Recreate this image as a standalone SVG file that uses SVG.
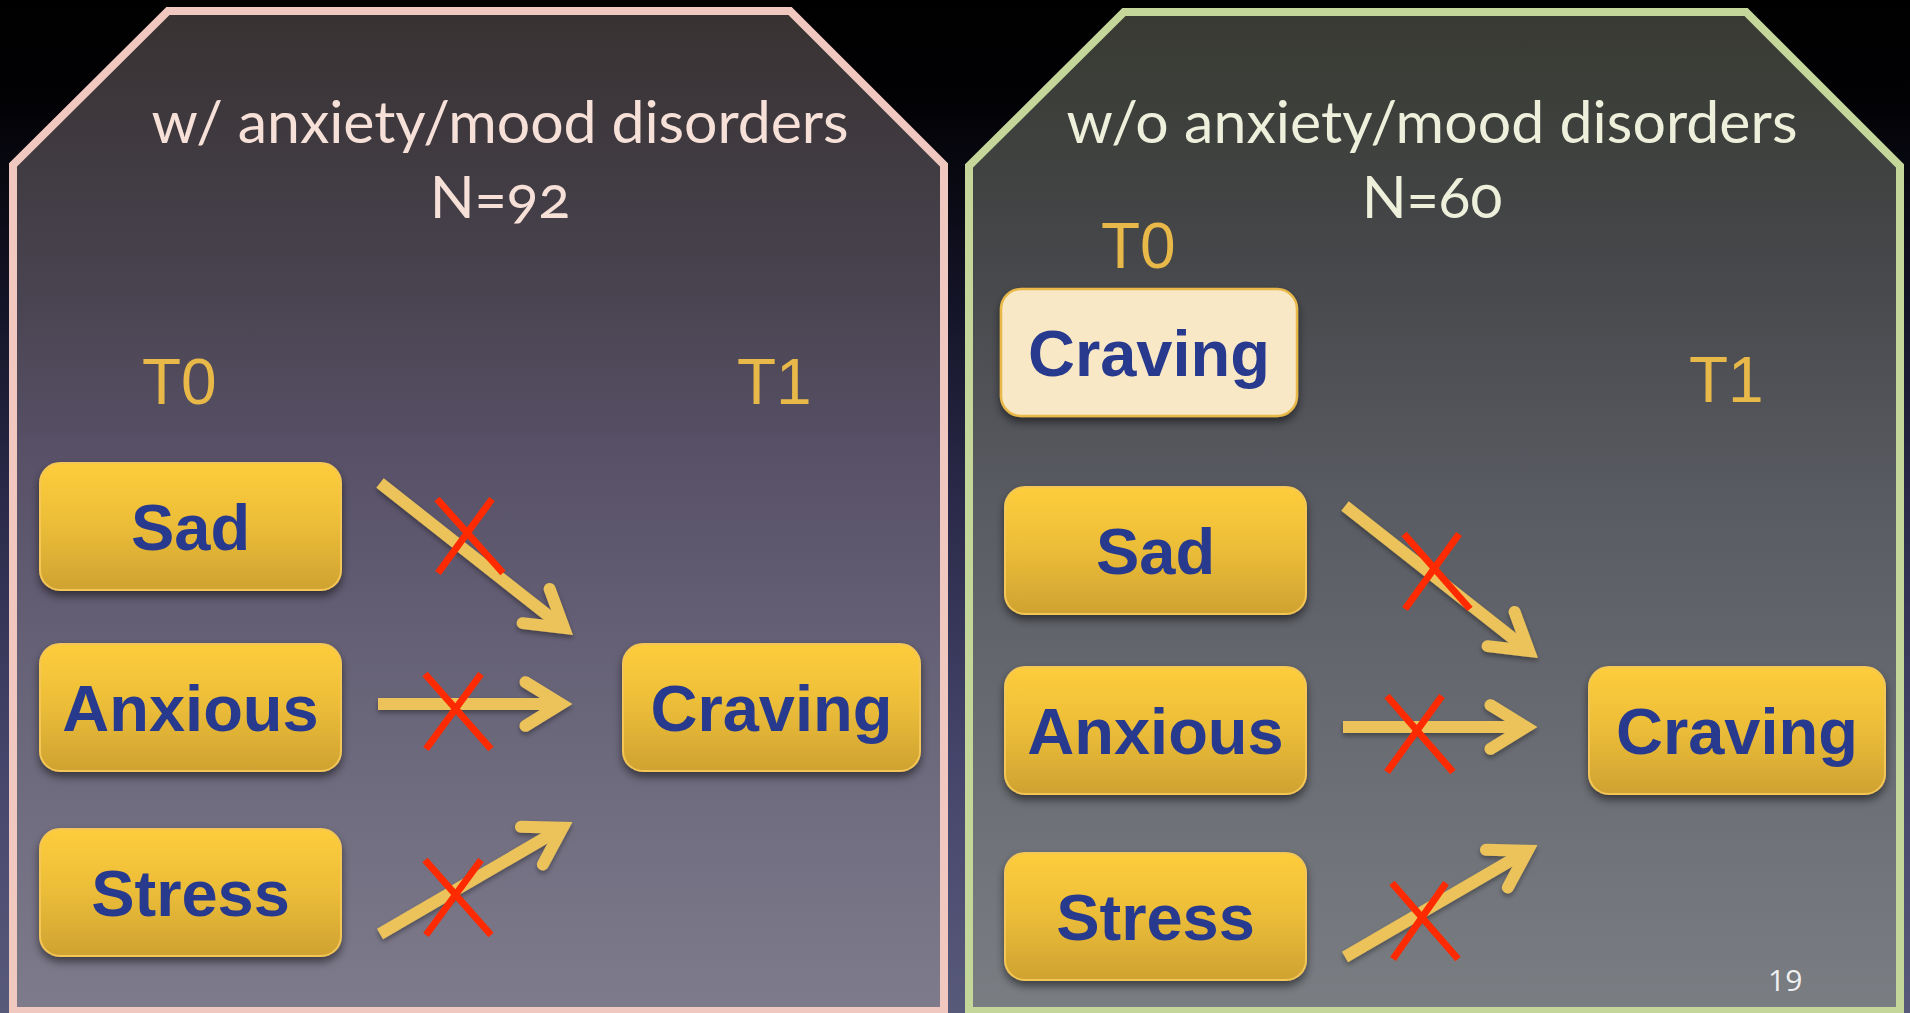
<svg xmlns="http://www.w3.org/2000/svg" width="1910" height="1013" viewBox="0 0 1910 1013">
  <defs>
    <linearGradient id="bg" x1="0" y1="0" x2="0" y2="1013" gradientUnits="userSpaceOnUse">
      <stop offset="0" stop-color="#000000"/>
      <stop offset="0.1" stop-color="#020205"/>
      <stop offset="0.3" stop-color="#141428"/>
      <stop offset="0.5" stop-color="#2b2a4a"/>
      <stop offset="0.75" stop-color="#44456a"/>
      <stop offset="1" stop-color="#585a7a"/>
    </linearGradient>
    <linearGradient id="gLeft" x1="0" y1="11" x2="0" y2="1011" gradientUnits="userSpaceOnUse">
      <stop offset="0" stop-color="#383232"/>
      <stop offset="0.25" stop-color="#46414c"/>
      <stop offset="0.45" stop-color="#585168"/>
      <stop offset="0.7" stop-color="#6a667a"/>
      <stop offset="1" stop-color="#7e7b8c"/>
    </linearGradient>
    <linearGradient id="gRight" x1="0" y1="12" x2="0" y2="1011" gradientUnits="userSpaceOnUse">
      <stop offset="0" stop-color="#383a32"/>
      <stop offset="0.25" stop-color="#45474a"/>
      <stop offset="0.5" stop-color="#5a5c63"/>
      <stop offset="1" stop-color="#7a7e83"/>
    </linearGradient>
    <linearGradient id="gBox" x1="0" y1="0" x2="0" y2="1">
      <stop offset="0" stop-color="#fecd3c"/>
      <stop offset="0.5" stop-color="#ebbc38"/>
      <stop offset="1" stop-color="#cfa232"/>
    </linearGradient>
    <filter id="shadow" x="-10%" y="-10%" width="120%" height="130%">
      <feDropShadow dx="0" dy="5" stdDeviation="4" flood-color="#000000" flood-opacity="0.5"/>
    </filter>
    <filter id="ashadow" x="-20%" y="-20%" width="140%" height="140%">
      <feDropShadow dx="0" dy="3" stdDeviation="2.5" flood-color="#000000" flood-opacity="0.35"/>
    </filter>
    <marker id="head" markerUnits="userSpaceOnUse" orient="auto" markerWidth="60" markerHeight="60" viewBox="-50 -30 60 60" refX="0" refY="0" overflow="visible">
      <path d="M-35.5,-21.8 L0,0 L-35.5,21.8" fill="none" stroke="#ebc35a" stroke-width="12" stroke-linecap="round" stroke-linejoin="miter"/>
    </marker>
    <style>
      .title { font-family: "Lato", "Open Sans", sans-serif; font-size: 59px; text-anchor: middle; font-variant-numeric: oldstyle-nums; }
      .tl { fill: #f6e0d8; }
      .tr { fill: #eef0dc; }
      .time { font-family: "Liberation Sans", Arial, sans-serif; font-size: 64px; fill: #e8b848; }
      .box { fill: url(#gBox); stroke: #f3c655; stroke-width: 2; filter: url(#shadow); }
      .cream { fill: #f9e8c6; stroke: #e8b848; stroke-width: 2.5; filter: url(#shadow); }
      .lbl { font-family: "Liberation Sans", Arial, sans-serif; font-weight: bold; font-size: 65px; fill: #283a8e; text-anchor: middle; }
      .arrow { stroke: #ebc35a; stroke-width: 12; fill: none; marker-end: url(#head); }
      .x { stroke: #ff2a00; stroke-width: 7; fill: none; }
    </style>
  </defs>

  <rect x="0" y="0" width="1910" height="1013" fill="url(#bg)"/>

  <g id="panel-left">
    <polygon points="168,11 790,11 944,165 944,1011 13,1011 13,165" fill="url(#gLeft)" stroke="#f0c8c0" stroke-width="8"/>
    <text class="title tl" x="500" y="143" textLength="697">w/ anxiety/mood disorders</text>
    <text class="title tl" x="500" y="218">N=92</text>
    <text class="time" x="142" y="404">T0</text>
    <text class="time" x="737" y="404">T1</text>
  </g>

  <g id="panel-right">
    <polygon points="1124,12 1746,12 1900,166 1900,1011 969,1011 969,166" fill="url(#gRight)" stroke="#c4d69a" stroke-width="8"/>
    <text class="title tr" x="1432" y="143" textLength="731">w/o anxiety/mood disorders</text>
    <text class="title tr" x="1432" y="218">N=60</text>
    <text class="time" x="1101" y="268">T0</text>
    <text class="time" x="1689" y="402">T1</text>
  </g>

  <g id="node-left-sad">
    <rect class="box" x="40" y="463" width="301" height="127" rx="20"/>
    <text class="lbl" x="190.5" y="549.5">Sad</text>
  </g>
  <g id="node-left-anxious">
    <rect class="box" x="40" y="644" width="301" height="127" rx="20"/>
    <text class="lbl" x="190.5" y="730.5">Anxious</text>
  </g>
  <g id="node-left-stress">
    <rect class="box" x="40" y="829" width="301" height="127" rx="20"/>
    <text class="lbl" x="190.5" y="915.5">Stress</text>
  </g>
  <g id="node-left-craving">
    <rect class="box" x="623" y="644" width="297" height="127" rx="20"/>
    <text class="lbl" x="771.5" y="730.5">Craving</text>
  </g>

  <g id="node-right-craving-t0">
    <rect class="cream" x="1001" y="289" width="296" height="127" rx="20"/>
    <text class="lbl" x="1149" y="375.5">Craving</text>
  </g>
  <g id="node-right-sad">
    <rect class="box" x="1005" y="487" width="301" height="127" rx="20"/>
    <text class="lbl" x="1155.5" y="573.5">Sad</text>
  </g>
  <g id="node-right-anxious">
    <rect class="box" x="1005" y="667" width="301" height="127" rx="20"/>
    <text class="lbl" x="1155.5" y="753.5">Anxious</text>
  </g>
  <g id="node-right-stress">
    <rect class="box" x="1005" y="853" width="301" height="127" rx="20"/>
    <text class="lbl" x="1155.5" y="939.5">Stress</text>
  </g>
  <g id="node-right-craving-t1">
    <rect class="box" x="1589" y="667" width="296" height="127" rx="20"/>
    <text class="lbl" x="1737" y="753.5">Craving</text>
  </g>

  <g id="connectors" filter="url(#ashadow)">
    <line class="arrow" x1="380" y1="483" x2="564" y2="628"/>
    <line class="arrow" x1="378" y1="704" x2="561" y2="704"/>
    <line class="arrow" x1="380" y1="934" x2="562.6" y2="827.8"/>
    <line class="arrow" x1="1345" y1="506" x2="1529" y2="651"/>
    <line class="arrow" x1="1343" y1="727" x2="1526" y2="727"/>
    <line class="arrow" x1="1345" y1="957" x2="1527.6" y2="850.8"/>
  </g>

  <g id="blocked-marks">
    <line class="x" x1="437" y1="499" x2="503" y2="573"/>
    <line class="x" x1="492" y1="499" x2="438" y2="573"/>
    <line class="x" x1="425" y1="674" x2="491" y2="749"/>
    <line class="x" x1="481" y1="674" x2="426" y2="749"/>
    <line class="x" x1="425" y1="860" x2="491" y2="935"/>
    <line class="x" x1="481" y1="860" x2="426" y2="935"/>
    <line class="x" x1="1404" y1="534" x2="1470" y2="609"/>
    <line class="x" x1="1459" y1="534" x2="1405" y2="609"/>
    <line class="x" x1="1387" y1="696" x2="1453" y2="772"/>
    <line class="x" x1="1442" y1="696" x2="1387" y2="772"/>
    <line class="x" x1="1392" y1="883" x2="1458" y2="959"/>
    <line class="x" x1="1446" y1="883" x2="1393" y2="959"/>
  </g>

  <text x="1768" y="991" font-family="Open Sans, sans-serif" font-size="30" fill="#f0f0f0">19</text>
</svg>
